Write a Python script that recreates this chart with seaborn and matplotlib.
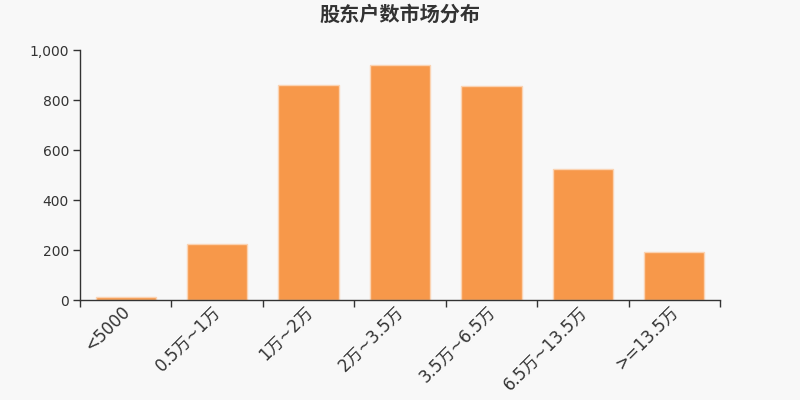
import matplotlib
matplotlib.use("Agg")
import matplotlib.pyplot as plt
import matplotlib.ticker as mticker
import matplotlib.transforms as mtransforms
import seaborn as sns
import pandas as pd
import numpy as np

categories = ["<5000", "0.5万~1万", "1万~2万", "2万~3.5万", "3.5万~6.5万", "6.5万~13.5万", ">=13.5万"]
values = [12, 224, 860, 940, 856, 524, 192]

sns.set_theme(style="white")
plt.rcParams['font.family'] = ['DejaVu Sans', 'Noto Sans CJK SC']
bg = "#f8f8f8"
fig = plt.figure(figsize=(8, 4), dpi=100, facecolor=bg)
ax = fig.add_axes([0.1, 0.25, 0.8, 0.625], facecolor=bg)

df = pd.DataFrame({"cat": categories, "val": values})
sns.barplot(data=df, x="cat", y="val", ax=ax, color="#f7984a", saturation=1,
            width=0.66, edgecolor="#fbd3b2", linewidth=1)

ax.set_xlim(-0.5, len(categories) - 0.5)
ax.set_ylim(0, 1000)
ax.set_xlabel("")
ax.set_ylabel("")
ax.yaxis.set_major_locator(mticker.MultipleLocator(200))
ax.yaxis.set_major_formatter(mticker.FuncFormatter(lambda v, p: f"{int(v):,}"))

for s in ["top", "right"]:
    ax.spines[s].set_visible(False)
for s in ["left", "bottom"]:
    ax.spines[s].set_color("#333333")
    ax.spines[s].set_linewidth(1)

ax.set_xticks(np.arange(len(categories)))
ax.set_xticklabels(categories, rotation=45, ha="right", va="top",
                   rotation_mode="anchor", fontsize=12, color="#333333")
ax.tick_params(axis="x", which="major", length=0, pad=2)
ax.set_xticks(np.arange(len(categories) + 1) - 0.5, minor=True)
ax.tick_params(axis="x", which="minor", length=5, width=1, color="#333333", bottom=True)
ax.tick_params(axis="y", which="major", length=5, width=1, color="#333333",
               labelsize=10, labelcolor="#333333", left=True, pad=3)

offset = mtransforms.ScaledTranslation(-5 / 100, 0, fig.dpi_scale_trans)
for lbl in ax.get_xticklabels():
    lbl.set_transform(lbl.get_transform() + offset)

fig.suptitle("股东户数市场分布", x=0.5, y=0.99, fontsize=14.5, fontweight="bold",
             color="#333333", family=["Noto Sans CJK SC", "DejaVu Sans"])

fig.savefig("out.png", dpi=100, facecolor=bg)
